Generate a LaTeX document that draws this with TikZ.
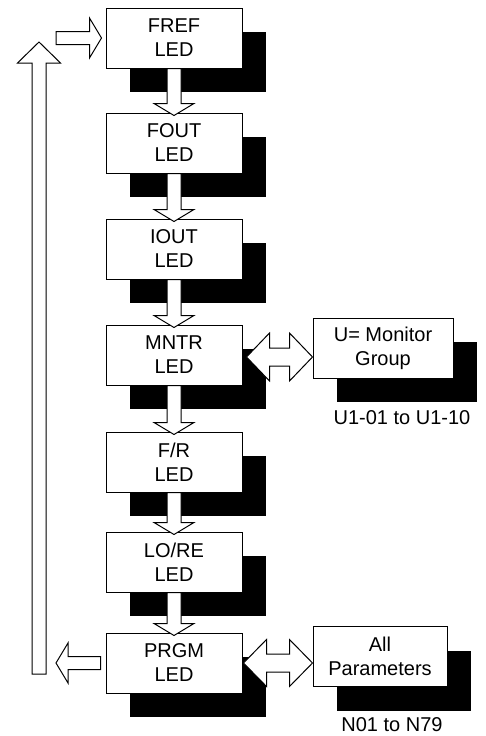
\documentclass[tikz,border=0pt]{standalone}
\usepackage{fontspec}
\setmainfont{Liberation Sans}
\usetikzlibrary{calc,shadows}

% block arrow: tail, tip, half shaft, half head, head length
\newcommand\blkarrow[5]{%
  \coordinate (ba-h) at ($(#2)!#5!(#1)$);
  \draw[blk] ($(#1)!#3!90:(#2)$) -- ($(ba-h)!#3!90:(#2)$) -- ($(ba-h)!#4!90:(#2)$)
    -- (#2) -- ($(ba-h)!#4!-90:(#2)$) -- ($(ba-h)!#3!-90:(#2)$) -- ($(#1)!#3!-90:(#2)$) -- cycle;
}
% double block arrow between two points
\newcommand\dblarrow[5]{%
  \coordinate (da-a) at ($(#1)!#5!(#2)$);
  \coordinate (da-b) at ($(#2)!#5!(#1)$);
  \draw[blk] (#1) -- ($(da-a)!#4!90:(#2)$) -- ($(da-a)!#3!90:(#2)$) -- ($(da-b)!#3!90:(#2)$)
    -- ($(da-b)!#4!90:(#2)$) -- (#2) -- ($(da-b)!#4!-90:(#2)$) -- ($(da-b)!#3!-90:(#2)$)
    -- ($(da-a)!#3!-90:(#2)$) -- ($(da-a)!#4!-90:(#2)$) -- cycle;
}

\tikzset{
  led/.style={draw, fill=white, line width=1pt, minimum width=136pt, minimum height=60pt,
    align=center, inner sep=0pt, font=\fontsize{20}{24}\selectfont,
    drop shadow={shadow xshift=24pt, shadow yshift=-24pt, fill=black, opacity=1}},
  blk/.style={draw, fill=white, line width=1pt, line join=miter},
  lbl/.style={font=\fontsize{20}{24}\selectfont, inner sep=0pt}
}

\begin{document}
\begin{tikzpicture}[x=1pt, y=-1pt]
  \useasboundingbox (0,0) rectangle (485,736);

  \foreach \nm/\txt/\yy in {fref/FREF/38, fout/FOUT/143, iout/IOUT/249, mntr/MNTR/355,
                            fr/F\slash R/462, lore/LO\slash RE/562, prgm/PRGM/663}
  {
    \node[led] (\nm) at (174,\yy) {\txt\\LED};
  }
  \node[led, minimum width=140pt] (ugrp) at (383,348) {U= Monitor\\Group};
  \node[led, minimum width=134pt] (npar) at (380,656.5) {All\\Parameters};
  \node[lbl] (ulbl) at (402,418) {U1-01 to U1-10};
  \node[lbl] (nlbl) at (392,725) {N01 to N79};

  \foreach \a/\b in {fref/fout, fout/iout, iout/mntr, mntr/fr, fr/lore, lore/prgm}
  {
    \blkarrow{\a.south}{$(\b.north)+(0,3)$}{7pt}{20pt}{12pt}
  }

  \dblarrow{$(mntr.east)+(4,2)$}{$(ugrp.west)+(0,9)$}{9pt}{24pt}{23pt}
  \dblarrow{$(prgm.east)+(1,0)$}{$(npar.west)+(0,6.5)$}{9pt}{23.5pt}{23pt}

  % return path
  \coordinate (retin) at (56,663);
  \coordinate (retbot) at (39,674);
  \coordinate (rettop) at (39,42);
  \coordinate (retout) at (56,38);
  \blkarrow{$(prgm.west)+(-5,0)$}{retin}{6.5pt}{20pt}{12pt}
  \blkarrow{retbot}{rettop}{7pt}{21.5pt}{21pt}
  \blkarrow{retout}{$(fref.west)+(-4,0)$}{6.5pt}{20pt}{12pt}
\end{tikzpicture}
\end{document}
